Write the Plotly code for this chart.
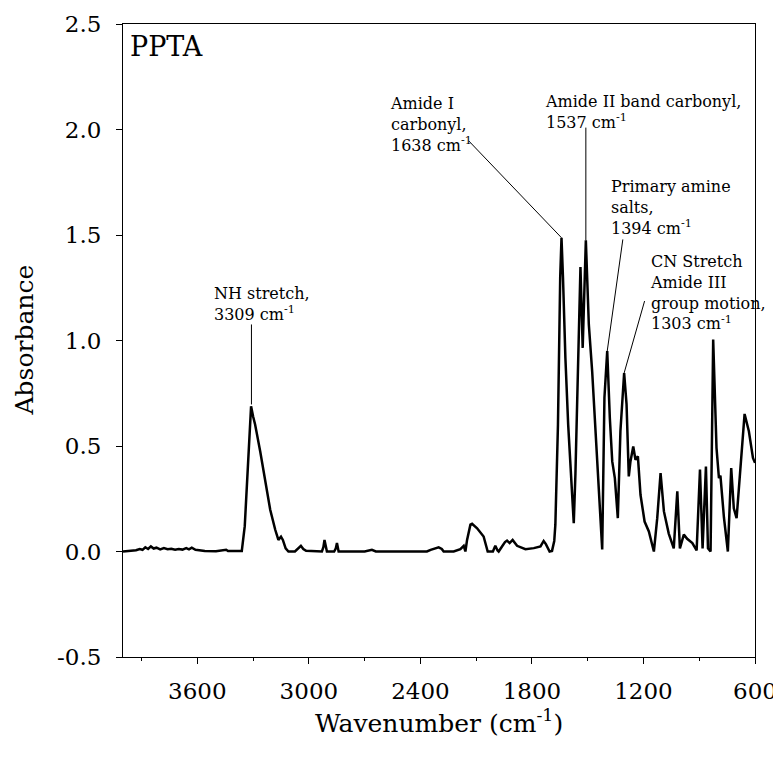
import plotly.graph_objects as go

# ---- spectrum data ----
wavenumber = [4000, 3960, 3930, 3910, 3895, 3880, 3865, 3850, 3835, 3820, 3800, 3780, 3760, 3740,
              3720, 3700, 3680, 3660, 3645, 3630, 3610, 3590, 3560, 3500, 3460, 3445, 3435, 3380,
              3361, 3345, 3334, 3322, 3311, 3300, 3289, 3262, 3235, 3208, 3181, 3164, 3150, 3140,
              3125, 3110, 3075, 3055, 3043, 3030, 3015, 2930, 2922, 2916, 2910, 2903, 2864, 2855,
              2849, 2843, 2840, 2700, 2661, 2640, 2365, 2345, 2329, 2302, 2285, 2275, 2221, 2185,
              2167, 2160, 2158, 2149, 2131, 2122, 2095, 2060, 2045, 2038, 2010, 1997, 1985, 1979,
              1961, 1945, 1934, 1920, 1904, 1880, 1835, 1790, 1754, 1745, 1737, 1725, 1705, 1692,
              1680, 1674, 1660, 1648, 1641, 1633, 1620, 1605, 1590, 1575, 1566, 1553, 1545, 1539,
              1527, 1520, 1510, 1503, 1494, 1476, 1449, 1422, 1410, 1395, 1381, 1368, 1354, 1338,
              1324, 1304, 1291, 1279, 1270, 1255, 1243, 1230, 1216, 1194, 1171, 1144, 1126, 1108,
              1090, 1064, 1037, 1018, 1004, 983, 965, 937, 914, 896, 882, 864, 853, 839, 825, 807,
              794, 786, 767, 746, 728, 714, 699, 678, 656, 633, 611, 600]
absorbance = [0.0, 0.002, 0.006, 0.012, 0.008, 0.02, 0.012, 0.024, 0.014, 0.018, 0.01, 0.016, 0.011, 0.013,
              0.008, 0.012, 0.009, 0.016, 0.01, 0.018, 0.008, 0.006, 0.002, 0.001, 0.004, 0.008, 0.002, 0.0,
              0.002, 0.12, 0.316, 0.55, 0.688, 0.64, 0.601, 0.475, 0.332, 0.198, 0.103, 0.055, 0.07, 0.055,
              0.015, 0.0, 0.0, 0.015, 0.027, 0.012, 0.003, 0.0, 0.02, 0.055, 0.02, 0.0, 0.0, 0.015,
              0.04, 0.01, 0.0, 0.0, 0.008, 0.0, 0.0, 0.008, 0.013, 0.02, 0.012, 0.0, 0.0, 0.011,
              0.027, 0.005, 0.0, 0.055, 0.127, 0.131, 0.11, 0.071, 0.02, 0.0, 0.0, 0.027, 0.005, 0.0,
              0.024, 0.045, 0.052, 0.04, 0.055, 0.027, 0.011, 0.016, 0.024, 0.04, 0.05, 0.035, 0.0, 0.003,
              0.05, 0.127, 0.6, 1.3, 1.487, 1.3, 0.917, 0.6, 0.35, 0.134, 0.37, 0.84, 1.25, 1.348,
              0.965, 1.2, 1.475, 1.3, 1.076, 0.854, 0.41, 0.01, 0.73, 0.95, 0.633, 0.427, 0.348, 0.158,
              0.57, 0.846, 0.697, 0.356, 0.427, 0.498, 0.435, 0.451, 0.269, 0.142, 0.095, 0.0, 0.158, 0.372,
              0.19, 0.085, 0.015, 0.285, 0.015, 0.08, 0.06, 0.04, 0.005, 0.388, 0.015, 0.403, 0.015, 0.0, 1.005, 0.49,
              0.348, 0.36, 0.16, 0.0, 0.395, 0.205, 0.158, 0.41, 0.652, 0.57, 0.443, 0.42]

# ---- axis ticks ----
x_ticks = [3600, 3000, 2400, 1800, 1200, 600]
x_tick_labels = ["3600", "3000", "2400", "1800", "1200", "600"]
y_ticks = [-0.5, 0.0, 0.5, 1.0, 1.5, 2.0, 2.5]
y_tick_labels = ["-0.5", "0.0", "0.5", "1.0", "1.5", "2.0", "2.5"]
x_title = "Wavenumber (cm<sup>-1</sup>)"
y_title = "Absorbance"
panel_label = "PPTA"

# ---- band annotations ----
band_labels = [
    "NH stretch,<br>3309 cm<sup>-1</sup>",
    "Amide I<br>carbonyl,<br>1638 cm<sup>-1</sup>",
    "Amide II band carbonyl,<br>1537 cm<sup>-1</sup>",
    "Primary amine<br>salts,<br>1394 cm<sup>-1</sup>",
    "CN Stretch<br>Amide III<br>group motion,<br>1303 cm<sup>-1</sup>",
]
label_x = [3522, 2577, 1740, 1388, 1174]
label_y = [1.277, 2.178, 2.188, 1.785, 1.429]
pointer_from_x = [3309, 2140, 1510, 1311, 1194]
pointer_from_y = [1.076, 1.946, 2.009, 1.479, 1.187]
pointer_to_x = [3309, 1641, 1510, 1395, 1304]
pointer_to_y = [0.697, 1.487, 1.475, 0.95, 0.846]

FONT = "DejaVu Serif"

fig = go.Figure()
fig.add_trace(go.Scatter(x=wavenumber, y=absorbance, mode="lines",
                         line=dict(color="black", width=2.5), showlegend=False))

for i, txt in enumerate(band_labels):
    fig.add_annotation(x=label_x[i], y=label_y[i], xref="x", yref="y", text=txt,
                       showarrow=False, xanchor="left", yanchor="top", align="left",
                       font=dict(family=FONT, size=16, color="black"))
    fig.add_shape(type="line", xref="x", yref="y",
                  x0=pointer_from_x[i], y0=pointer_from_y[i],
                  x1=pointer_to_x[i], y1=pointer_to_y[i],
                  line=dict(color="black", width=1))

fig.add_annotation(x=3975, y=2.393, xref="x", yref="y", text=panel_label, showarrow=False,
                   xanchor="left", yanchor="middle",
                   font=dict(family=FONT, size=27, color="black"))

# axis titles
fig.add_annotation(x=0.5, y=0, xref="paper", yref="paper", yshift=-64, text=x_title,
                   showarrow=False, xanchor="center", yanchor="middle",
                   font=dict(family=FONT, size=25, color="black"))
fig.add_annotation(x=0, y=0.5, xref="paper", yref="paper", xshift=-99, text=y_title,
                   showarrow=False, xanchor="center", yanchor="middle", textangle=-90,
                   font=dict(family=FONT, size=25, color="black"))

# the page body adds an 8px offset, so the figure is 8px smaller and margins shifted
fig.update_layout(
    width=773, height=754,
    margin=dict(l=115, r=26, t=16, b=105, autoexpand=False),
    paper_bgcolor="white", plot_bgcolor="white",
    font=dict(family=FONT, color="black"),
)
fig.update_xaxes(
    range=[4000, 600], tickvals=x_ticks, ticktext=x_tick_labels,
    ticks="outside", ticklen=6, tickwidth=1, tickcolor="black",
    minor=dict(dtick=300, tick0=600, ticks="outside", ticklen=3, tickcolor="black"),
    showline=True, linecolor="black", linewidth=1, mirror=True,
    showgrid=False, zeroline=False, automargin=False, ticklabelstandoff=7,
    tickfont=dict(family=FONT, size=23, color="black"),
)
fig.update_yaxes(
    range=[-0.5, 2.5], tickvals=y_ticks, ticktext=y_tick_labels,
    ticks="outside", ticklen=6, tickwidth=1, tickcolor="black",
    showline=True, linecolor="black", linewidth=1, mirror=True,
    showgrid=False, zeroline=False, automargin=False, ticklabelstandoff=10,
    tickfont=dict(family=FONT, size=23, color="black"),
)

fig.write_html("out.html")
